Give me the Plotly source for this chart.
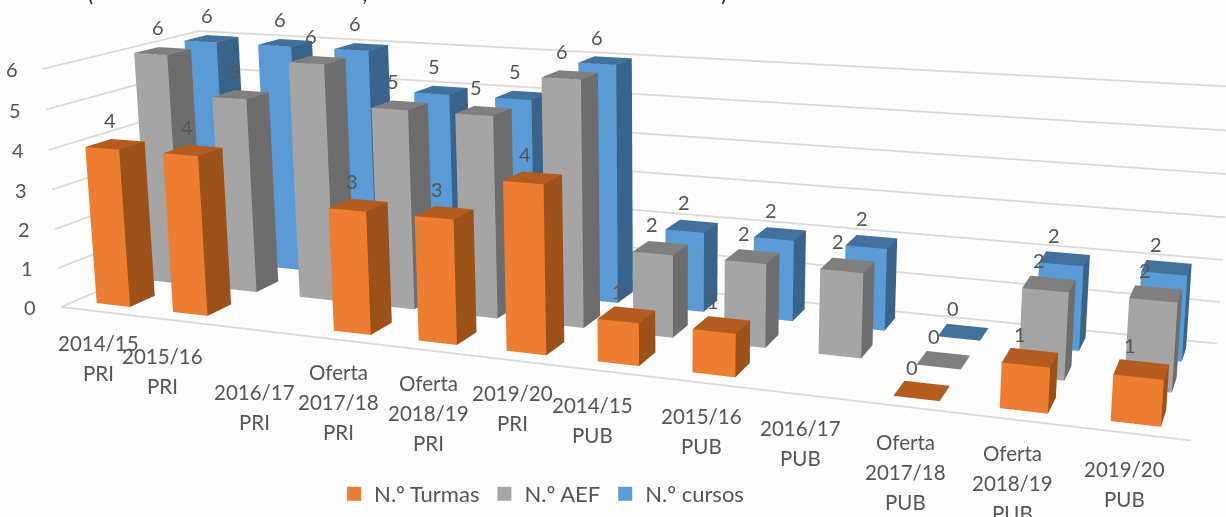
import math
import plotly.graph_objects as go

categories = [["2014/15","PRI"],["2015/16","PRI"],["2016/17","PRI"],["Oferta","2017/18","PRI"],["Oferta","2018/19","PRI"],["2019/20","PRI"],
              ["2014/15","PUB"],["2015/16","PUB"],["2016/17","PUB"],["Oferta","2017/18","PUB"],["Oferta","2018/19","PUB"],["2019/20","PUB"]]
turmas = [4,4,None,3,3,4,1,1,None,0,1,1]
aef    = [6,5,6,5,5,6,2,2,2,0,2,2]
cursos = [6,6,6,5,5,6,2,2,2,0,2,2]
series_names = ["N.º Turmas","N.º AEF","N.º cursos"]
z_ticks = [0,1,2,3,4,5,6]

# label nudges in pixels (the original label layout is irregular)
CAT_DX = [0,-14,-2,-1,2,-3,-16,-4,-5,-5,-6,-8]
CAT_DY = [4,7,34,4,5,4,5,5,5,7,5,7]

FRONT = ["#ED7D31","#A5A5A5","#5B9BD5"]
SIDE  = ["#9C5119","#6D6D6D","#38648C"]
TOP   = ["#B55D20","#7F7F7F","#41719C"]
TEXT = "#555555"; GRID = "#D9D9D9"; BG = "#FDFDFD"; FONT = "Lato"

H = 1574; SHIFT = 584
YAW = math.radians(21.5); PITCH = math.radians(13.4); DIST = 3.33; ROLL = 0.007
CAM_SHIFT = -0.0045
BAR_W = 0.44; BAR_D = 0.47

def bars(values, row):
    X,Y,Z,I,J,K,FC = [],[],[],[],[],[],[]
    for c,v in enumerate(values):
        if v is None: continue
        x0,x1 = c+.5-BAR_W/2, c+.5+BAR_W/2
        y0,y1 = row+.5-BAR_D/2, row+.5+BAR_D/2
        n = len(X)
        for z in (0,v):
            X += [x0,x1,x1,x0]; Y += [y0,y0,y1,y1]; Z += [z,z,z,z]
        faces = [((0,1,5),FRONT[row]),((0,5,4),FRONT[row]),((1,2,6),SIDE[row]),((1,6,5),SIDE[row]),
                 ((4,5,6),TOP[row]),((4,6,7),TOP[row])]
        for (a,b,d),col in faces:
            I.append(n+a);J.append(n+b);K.append(n+d);FC.append(col)
    return X,Y,Z,I,J,K,FC

fig = go.Figure()
gx,gy,gz = [],[],[]
for t in z_ticks:
    gx += [0,0,12,None]; gy += [0,3,3,None]; gz += [t,t,t,None]
gx += [0,12]; gy += [0,0]; gz += [0,0]
fig.add_trace(go.Scatter3d(x=gx,y=gy,z=gz,mode="lines",line=dict(color=GRID,width=3.5),showlegend=False,hoverinfo="skip"))

anns = []
for row,(vals,name) in enumerate(zip([turmas,aef,cursos],series_names)):
    X,Y,Z,I,J,K,FC = bars(vals,row)
    fig.add_trace(go.Mesh3d(x=X,y=Y,z=Z,i=I,j=J,k=K,facecolor=FC,flatshading=True,name=name,showlegend=False,
        lighting=dict(ambient=1,diffuse=0,specular=0,roughness=1,fresnel=0),hoverinfo="skip"))
    fig.add_trace(go.Scatter3d(x=[None],y=[None],z=[None],mode="markers",name=name,
        marker=dict(symbol="square",size=14,color=FRONT[row]),hoverinfo="skip"))
    for c,v in enumerate(vals):
        if v is None: continue
        anns.append(dict(x=c+.5,y=row+.5,z=v,text=str(v),showarrow=False,xshift=-5-6*c/11,yshift=24,
                         font=dict(family=FONT,size=20,color=TEXT)))
for t in z_ticks:
    anns.append(dict(x=0,y=0,z=t,text=str(t),showarrow=False,xshift=-31,yshift=0,font=dict(family=FONT,size=20,color=TEXT)))
for c,lines in enumerate(categories):
    for n,l in enumerate(lines):
        anns.append(dict(x=c+.5,y=0,z=0,text=l,showarrow=False,xshift=CAT_DX[c],yshift=-28-CAT_DY[c]-30*n,font=dict(family=FONT,size=20.5,color=TEXT)))

# remains of a title cut off by the top edge of the picture
clipped = [dict(xref="paper",yref="paper",x=px/1226,y=1-(8+SHIFT)/H,text=t,showarrow=False,yanchor="bottom",
                font=dict(family=FONT,size=24,color="#333333")) for t,px in (("(",85),(",",360),(")",724))]

d = (math.sin(YAW)*math.cos(PITCH),-math.cos(YAW)*math.cos(PITCH),math.sin(PITCH))
r = (math.cos(YAW),math.sin(YAW))
cen = dict(x=CAM_SHIFT*r[0],y=CAM_SHIFT*r[1],z=0)
eye = dict(x=cen["x"]+DIST*d[0],y=cen["y"]+DIST*d[1],z=DIST*d[2])
ax = dict(visible=False,showgrid=False,zeroline=False,showline=False,showticklabels=False,showbackground=False,showspikes=False,title="")
fig.update_layout(
    width=1226,height=H,margin=dict(l=0,r=0,t=0,b=0),autosize=False,paper_bgcolor=BG,hovermode=False,
    font=dict(family=FONT,size=20,color=TEXT),annotations=clipped,
    legend=dict(orientation="h",x=0.2725,xanchor="left",y=1-(473+SHIFT)/H,yanchor="top",font=dict(size=22,color=TEXT),bgcolor="rgba(0,0,0,0)"),
    scene=dict(domain=dict(x=[0,1],y=[0,1]),aspectmode="manual",aspectratio=dict(x=2.01,y=.5,z=.445),
        xaxis=dict(range=[0,12],**ax),yaxis=dict(range=[0,3],**ax),zaxis=dict(range=[0,6],**ax),
        camera=dict(eye=eye,center=cen,up=dict(x=ROLL*r[0],y=ROLL*r[1],z=1),projection=dict(type="perspective")),
        annotations=anns,dragmode=False),
)
post = "var g=document.getElementById('{plot_id}');g.style.marginTop='-%dpx';document.body.style.margin='0';document.body.style.overflow='hidden';document.documentElement.style.overflow='hidden';" % SHIFT
fig.write_html("out.html",config=dict(displayModeBar=False),post_script=post)
